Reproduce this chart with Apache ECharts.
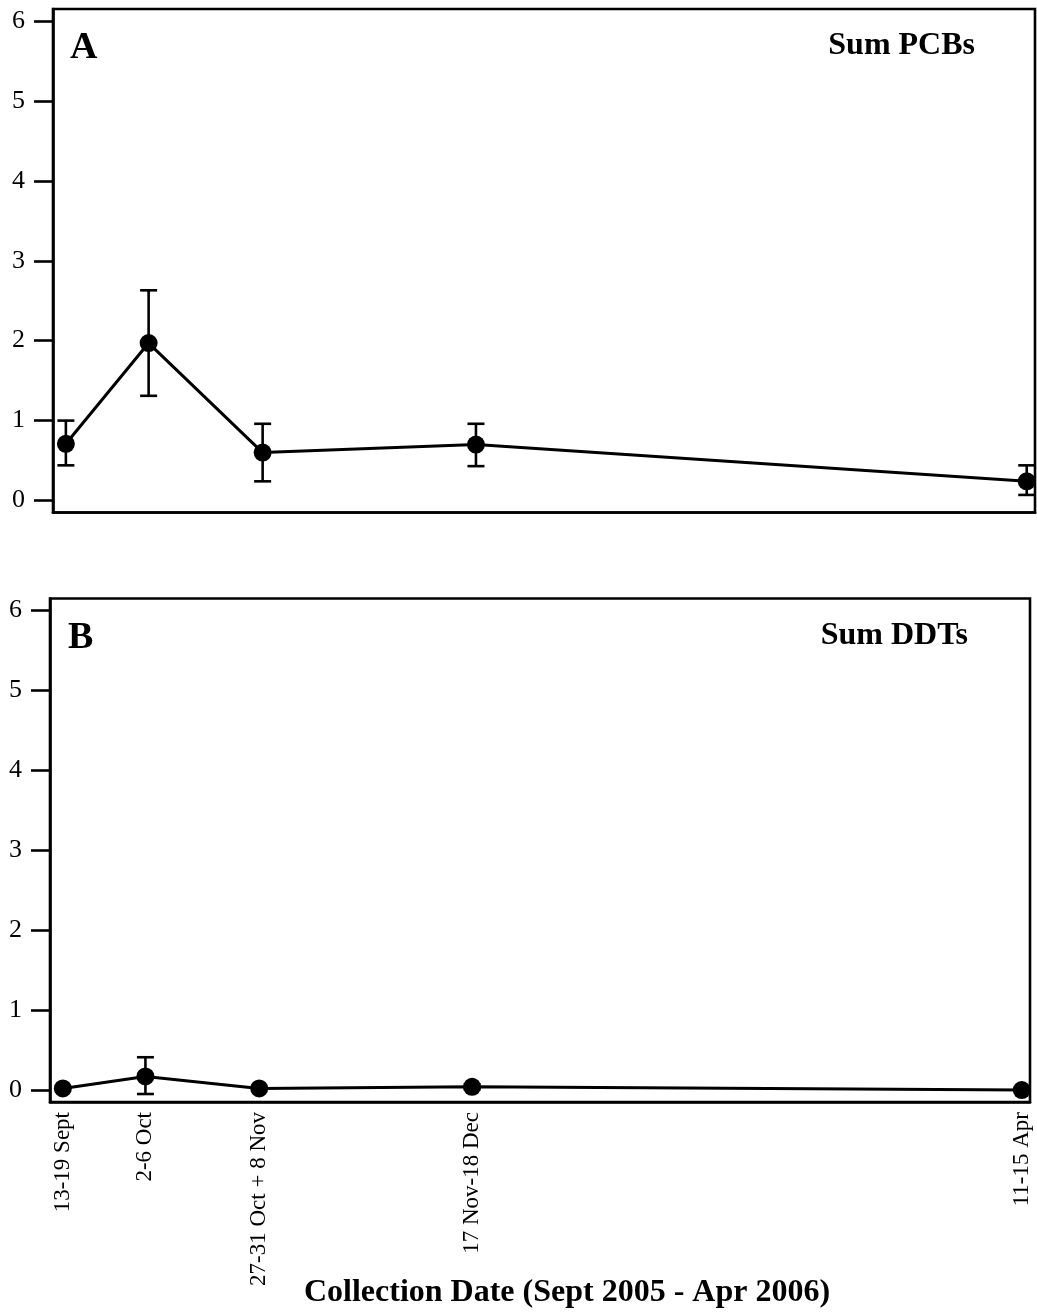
<!DOCTYPE html>
<html>
<head>
<meta charset="utf-8">
<script src="https://cdn.jsdelivr.net/npm/echarts@6/dist/echarts.min.js"></script>
<style>html,body{margin:0;padding:0;background:#fff}#c{width:1037px;height:1312px}</style>
</head>
<body>
<div id="c"></div>
<script>
// ---- data ----
const categories = ['13-19 Sept', '2-6 Oct', '27-31 Oct + 8 Nov', '17 Nov-18 Dec', '11-15 Apr'];
const dayPositions = [15, 33, 57.8, 104.2, 224]; // days after 1 Sept 2005 (approx. collection midpoints)
const pcbMean = [0.71, 1.97, 0.60, 0.70, 0.24];
const pcbLow  = [0.44, 1.31, 0.24, 0.43, 0.07];
const pcbHigh = [1.00, 2.63, 0.96, 0.96, 0.44];
const ddtMean = [0.02, 0.17, 0.02, 0.04, 0.00];
const ddtLow  = [null, -0.05, null, 0.01, null];
const ddtHigh = [null, 0.41, null, 0.07, null];
const yTicks = [0, 1, 2, 3, 4, 5, 6];

const FONT = "'Liberation Serif', 'Times New Roman', serif";
const chart = echarts.init(document.getElementById('c'), null, {renderer: 'canvas'});

function lineData(means) { return dayPositions.map((d, i) => [d, means[i]]); }
function errData(lo, hi) {
  const out = [];
  dayPositions.forEach((d, i) => { if (lo[i] !== null && hi[i] !== null) out.push([d, lo[i], hi[i]]); });
  return out;
}
function errRender(params, api) {
  const x = api.value(0), lo = api.value(1), hi = api.value(2);
  const pH = api.coord([x, hi]), pL = api.coord([x, lo]);
  const w = 8.5, st = {stroke: '#000', lineWidth: 2.6};
  return {type: 'group', children: [
    {type: 'line', shape: {x1: pH[0], y1: pH[1], x2: pL[0], y2: pL[1]}, style: st},
    {type: 'line', shape: {x1: pH[0] - w, y1: pH[1], x2: pH[0] + w, y2: pH[1]}, style: st},
    {type: 'line', shape: {x1: pL[0] - w, y1: pL[1], x2: pL[0] + w, y2: pL[1]}, style: st}
  ]};
}
function yAxis(idx) {
  return {
    type: 'value', gridIndex: idx, min: -0.15, max: 6.15,
    splitLine: {show: false},
    axisLine: {show: true, lineStyle: {color: '#000', width: 2.6}},
    axisTick: {show: true, customValues: yTicks, length: 19, lineStyle: {color: '#000', width: 2.6}},
    axisLabel: {customValues: yTicks, color: '#000', fontSize: 26, fontFamily: FONT, margin: 28}
  };
}
function xAxis(idx, showLabels) {
  return {
    type: 'value', gridIndex: idx, min: 12.2, max: 225.8,
    splitLine: {show: false},
    axisLine: {show: true, onZero: false, lineStyle: {color: '#000', width: 2.6}},
    axisTick: {show: false},
    axisLabel: {
      show: showLabels, customValues: dayPositions, rotate: 90, margin: 10,
      color: '#000', fontSize: 23, fontFamily: FONT,
      formatter: v => { const i = dayPositions.findIndex(d => Math.abs(d - v) < 1e-6); return i >= 0 ? categories[i] : ''; }
    }
  };
}
const gridBorder = {show: true, borderColor: '#000', borderWidth: 2.6, backgroundColor: 'transparent'};

chart.setOption({
  animation: false,
  backgroundColor: '#fff',
  grid: [
    Object.assign({left: 53, top: 9, width: 982, height: 503.5}, gridBorder),
    Object.assign({left: 50, top: 598.5, width: 980, height: 503.5}, gridBorder)
  ],
  xAxis: [xAxis(0, false), xAxis(1, true)],
  yAxis: [yAxis(0), yAxis(1)],
  series: [
    {type: 'custom', xAxisIndex: 0, yAxisIndex: 0, renderItem: errRender, data: errData(pcbLow, pcbHigh), clip: false, z: 2},
    {type: 'line', xAxisIndex: 0, yAxisIndex: 0, data: lineData(pcbMean), symbol: 'circle', symbolSize: 18,
     lineStyle: {color: '#000', width: 3}, itemStyle: {color: '#000'}, z: 3},
    {type: 'custom', xAxisIndex: 1, yAxisIndex: 1, renderItem: errRender, data: errData(ddtLow, ddtHigh), clip: false, z: 2},
    {type: 'line', xAxisIndex: 1, yAxisIndex: 1, data: lineData(ddtMean), symbol: 'circle', symbolSize: 18,
     lineStyle: {color: '#000', width: 3}, itemStyle: {color: '#000'}, z: 3}
  ],
  graphic: [
    {type: 'text', left: 70, top: 29, style: {text: 'A', font: 'bold 38px ' + FONT, fill: '#000'}},
    {type: 'text', right: 62, top: 30, style: {text: 'Sum PCBs', font: 'bold 32px ' + FONT, fill: '#000'}},
    {type: 'text', left: 68, top: 619, style: {text: 'B', font: 'bold 38px ' + FONT, fill: '#000'}},
    {type: 'text', right: 69, top: 620, style: {text: 'Sum DDTs', font: 'bold 32px ' + FONT, fill: '#000'}},
    {type: 'text', x: 567, y: 1293, style: {text: 'Collection Date (Sept 2005 - Apr 2006)', font: 'bold 32px ' + FONT, fill: '#000', align: 'center', verticalAlign: 'middle'}}
  ]
});
</script>
</body>
</html>
